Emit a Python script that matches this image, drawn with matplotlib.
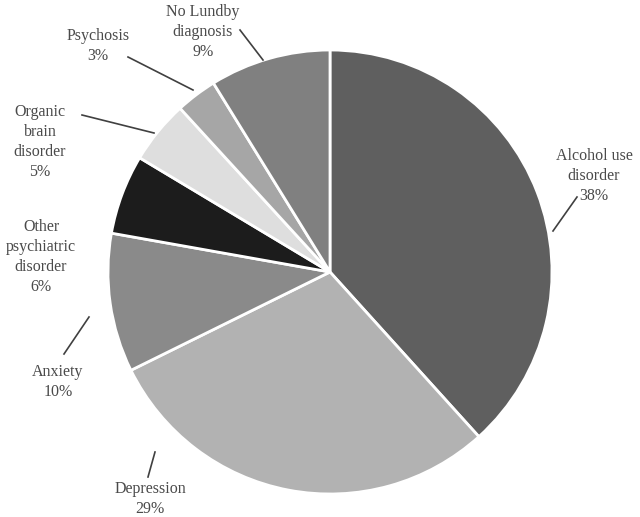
import matplotlib
matplotlib.use("Agg")
import matplotlib.pyplot as plt

categories = ["Alcohol use\ndisorder", "Depression", "Anxiety", "Other\npsychiatric\ndisorder",
              "Organic\nbrain\ndisorder", "Psychosis", "No Lundby\ndiagnosis"]
# shares; labels show the rounded percentages
values = [38.3, 29.4, 10.1, 5.8, 4.6, 3.0, 8.8]
colors = ["#5f5f5f", "#b2b2b2", "#8a8a8a", "#1c1c1c", "#dedede", "#a6a6a6", "#808080"]

W, H = 640, 517
# label text centres and leader lines (pixel coords, y down)
label_pos = [(594, 176), (150, 499), (58, 382), (41, 257), (40, 142), (98, 46), (203, 32)]
leaders = [((577, 197), (553, 231)), ((148, 477), (155, 452)), ((64, 354), (89, 317)), None,
           ((82, 115), (154, 133)), ((128, 57), (193, 90)), ((240, 30), (263, 60))]

fig = plt.figure(figsize=(W / 100, H / 100), dpi=100)
ax = fig.add_axes([0, 0, 1, 1])

cx, cy, r = 330, 272, 222
ax.pie(values, colors=colors, startangle=90, counterclock=False, center=(cx, H - cy), radius=r,
       wedgeprops=dict(edgecolor="white", linewidth=2), frame=True)
ax.set_xlim(0, W)
ax.set_ylim(0, H)
ax.set_aspect("equal")
ax.axis("off")

for cat, v, (lx, ly), ld in zip(categories, values, label_pos, leaders):
    ax.text(lx, H - ly, f"{cat}\n{round(v)}%", ha="center", va="center", fontsize=11.5,
            family="Liberation Serif", color="#4a4a4a", linespacing=1.35)
    if ld:
        (x1, y1), (x2, y2) = ld
        ax.plot([x1, x2], [H - y1, H - y2], color="#404040", lw=1.2)

fig.savefig("out.png", dpi=100)
